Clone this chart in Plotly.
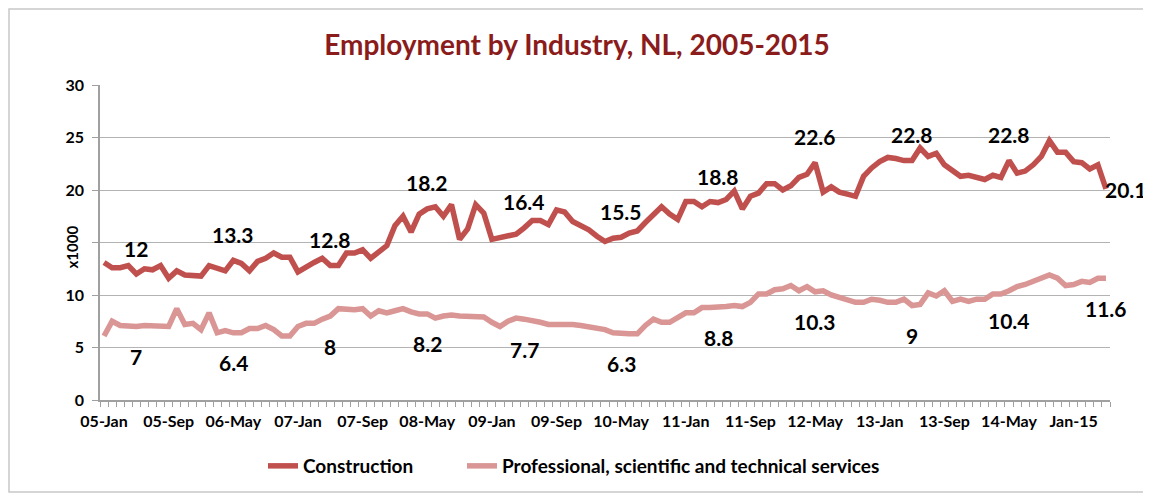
import plotly.graph_objects as go

# monthly employment, thousands, Jan 2005 - May 2015
construction = [
    13.1, 12.6, 12.6, 12.8, 12.0, 12.5, 12.4, 12.8, 11.6, 12.3, 11.9, 11.8,
    11.8, 12.8, 12.6, 12.3, 13.3, 13.0, 12.3, 13.2, 13.5, 14.0, 13.6, 13.6,
    12.2, 12.7, 13.1, 13.5, 12.8, 12.8, 14.0, 14.0, 14.3, 13.5, 14.1, 14.7,
    16.6, 17.5, 16.0, 17.7, 18.2, 18.4, 17.5, 18.6, 15.3, 16.3, 18.6, 17.8,
    15.3, 15.5, 15.7, 15.8, 16.4, 17.1, 17.1, 16.7, 18.1, 17.9, 17.0, 16.6,
    16.2, 15.6, 15.1, 15.4, 15.5, 15.9, 16.1, 16.9, 17.6, 18.4, 17.7, 17.2,
    18.9, 18.9, 18.4, 18.9, 18.8, 19.1, 19.9, 18.2, 19.4, 19.7, 20.6, 20.6,
    20.0, 20.4, 21.2, 21.5, 22.6, 19.8, 20.3, 19.8, 19.6, 19.4, 21.3, 22.1,
    22.7, 23.1, 23.0, 22.8, 22.8, 24.0, 23.2, 23.5, 22.4, 21.9, 21.3, 21.4,
    21.2, 21.0, 21.4, 21.2, 22.8, 21.6, 21.8, 22.4, 23.2, 24.7, 23.6, 23.6,
    22.7, 22.6, 22.0, 22.4, 20.1,
]
professional = [
    6.1, 7.5, 7.1, 7.0, 7.0, 7.1, 7.1, 7.1, 7.0, 8.7, 7.2, 7.3,
    6.7, 8.3, 6.4, 6.6, 6.4, 6.4, 6.8, 6.8, 7.1, 6.7, 6.1, 6.1,
    7.0, 7.3, 7.3, 7.7, 8.0, 8.7, 8.6, 8.6, 8.7, 8.0, 8.5, 8.3,
    8.5, 8.7, 8.4, 8.2, 8.2, 7.8, 8.0, 8.1, 8.0, 8.0, 7.9, 7.9,
    7.4, 7.0, 7.5, 7.8, 7.7, 7.6, 7.4, 7.2, 7.2, 7.3, 7.2, 7.1,
    7.0, 6.8, 6.7, 6.4, 6.3, 6.3, 6.3, 7.1, 7.7, 7.4, 7.4, 7.8,
    8.3, 8.3, 8.8, 8.8, 8.8, 8.9, 9.0, 8.9, 9.3, 10.1, 10.1, 10.5,
    10.6, 10.9, 10.4, 10.8, 10.3, 10.4, 10.0, 9.8, 9.6, 9.3, 9.3, 9.6,
    9.5, 9.3, 9.3, 9.6, 9.0, 9.1, 10.2, 9.9, 10.4, 9.4, 9.6, 9.4,
    9.6, 9.6, 10.1, 10.1, 10.4, 10.8, 11.0, 11.3, 11.5, 11.9, 11.6, 10.9,
    11.0, 11.3, 11.2, 11.6, 11.6,
]
tick_labels = [
    "05-Jan", "05-Sep", "06-May", "07-Jan", "07-Sep", "08-May", "09-Jan", "09-Sep",
    "10-May", "11-Jan", "11-Sep", "12-May", "13-Jan", "13-Sep", "14-May", "Jan-15",
]
y_ticks = [0, 5, 10, 15, 20, 25, 30]
# the "15" label sits under the axis title in the original, so it is not shown
y_tick_text = ["0", "5", "10", "", "20", "25", "30"]
label_idx = [4, 16, 28, 40, 52, 64, 76, 88, 100, 112, 124]

RED = "#c0504d"
PINK = "#d99694"
GRID = "#b3b3b3"
AXIS = "#a0a0a0"
FONT = "Lato, 'Open Sans', sans-serif"

# page body has an 8px margin, so the figure is drawn 8px in from the window corner
OFF = 8
W, H = 1151 - OFF, 493 - OFF
L, R, T, B = 92, 41, 77, 93
pw, ph = W - L - R, H - T - B

months = list(range(len(construction)))

fig = go.Figure()
fig.add_trace(go.Scatter(x=months, y=construction, mode="lines", name="Construction",
                         line=dict(color=RED, width=5.5), legend="legend"))
fig.add_trace(go.Scatter(x=months, y=professional, mode="lines",
                         name="Professional, scientific and technical services",
                         line=dict(color=PINK, width=5.5), legend="legend2"))

# data labels, one per year
lab_font = dict(size=21, color="black", family=FONT, weight="bold")
annos = []
for i in label_idx:
    last = i == label_idx[-1]
    annos.append(dict(x=i, y=construction[i], text=f"{construction[i]:g}", showarrow=False,
                      xanchor="left" if last else "center",
                      xshift=-3 if last else 0, yshift=-1 if last else 26, font=lab_font))
    annos.append(dict(x=i, y=professional[i], text=f"{professional[i]:g}", showarrow=False,
                      yshift=-30, font=lab_font))

# y axis title
annos.append(dict(x=0, y=0.5, xref="paper", yref="paper", text="x1000", textangle=-90,
                  showarrow=False, xanchor="center", yanchor="middle", xshift=-29, yshift=-5,
                  font=dict(size=15, color="black", family=FONT, weight="bold")))

# chart-area border
fig.add_shape(type="rect", xref="paper", yref="paper",
              x0=(1 - L) / pw, x1=(W - 4 - L) / pw,
              y0=(T + ph - (H - 1)) / ph, y1=(T + ph - 1) / ph,
              line=dict(color="#c8c8c8", width=1.5), fillcolor="rgba(0,0,0,0)", layer="below")

leg = dict(orientation="h", xref="container", xanchor="left", yref="container",
           yanchor="middle", y=1 - (466 - OFF) / H, itemwidth=30,
           font=dict(size=19, family=FONT, weight="bold"), bgcolor="rgba(0,0,0,0)")

fig.update_layout(
    width=W, height=H,
    margin=dict(l=L, r=R, t=T, b=B, autoexpand=False),
    paper_bgcolor="white", plot_bgcolor="white",
    font=dict(family=FONT, color="black"),
    title=dict(text="Employment by Industry, NL, 2005-2015", x=(577 - OFF) / W, xref="container",
               xanchor="center", y=1 - (45 - OFF) / H, yref="container", yanchor="middle",
               font=dict(size=28, color="#8b1c1c", family=FONT, weight="bold")),
    legend=dict(leg, x=(268 - OFF - 5) / W),
    legend2=dict(leg, x=(467 - OFF - 5) / W),
    annotations=annos,
    showlegend=True,
)
fig.update_xaxes(
    range=[-0.5, len(months) - 0.5],
    tickvals=[8 * k for k in range(len(tick_labels))], ticktext=tick_labels,
    ticks="", showgrid=False, zeroline=False,
    showline=True, linecolor=AXIS, linewidth=1.5, ticklabelstandoff=6,
    tickfont=dict(size=16, family=FONT, weight="bold"),
    minor=dict(ticks="outside", tick0=-0.5, dtick=1, ticklen=5, tickcolor=AXIS, showgrid=False),
)
fig.update_yaxes(
    range=[0, 30], tickvals=y_ticks, ticktext=y_tick_text,
    showgrid=True, gridcolor=GRID, gridwidth=1.3, zeroline=False,
    showline=True, linecolor=AXIS, linewidth=1.5, ticks="outside", ticklen=6,
    tickcolor=AXIS, ticklabelstandoff=5,
    tickfont=dict(size=16, family=FONT, weight="bold"),
)

fig.write_html("out.html")
